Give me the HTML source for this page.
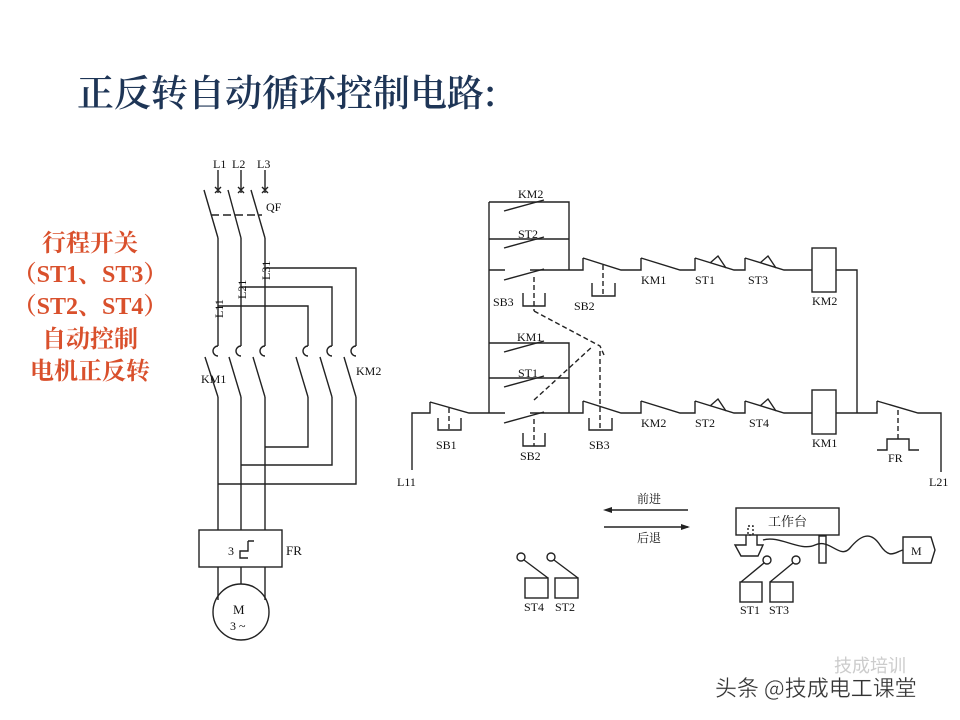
<!DOCTYPE html>
<html><head><meta charset="utf-8"><style>
html,body{margin:0;padding:0;background:#fff;}
svg{display:block;}
.t{font-family:"Liberation Serif","Noto Serif CJK SC",serif;font-size:12px;fill:#111;}
</style></head><body>
<svg width="960" height="720" viewBox="0 0 960 720" xmlns="http://www.w3.org/2000/svg">
<rect width="960" height="720" fill="#fff"/>
<text x="77" y="106" font-family="'Noto Serif CJK SC',serif" font-size="37" font-weight="600" fill="#1e3556">正反转自动循环控制电路:</text>
<g font-family="'Liberation Serif','Noto Serif CJK SC',serif" font-size="24" font-weight="bold" fill="#d9502c" text-anchor="middle">
<text x="90" y="251">行程开关</text>
<text x="90" y="282">（ST1、ST3）</text>
<text x="90" y="314">（ST2、ST4）</text>
<text x="90" y="347">自动控制</text>
<text x="90" y="379">电机正反转</text>
</g>
<g stroke="#222" stroke-width="1.4" fill="none">
<path d="M218 170V193M241 170V193M265 170V193"/>
<path d="M215 187l6 6M221 187l-6 6M238 187l6 6M244 187l-6 6M262 187l6 6M268 187l-6 6"/>
<path d="M204 190L218 238M228 190L241 238M251 190L265 238"/>
<path d="M211 215H262" stroke-dasharray="8,4"/>
<path d="M218 238V346M241 238V346M265 238V346"/>
<path d="M265 268H356V346M241 287H332V346M218 306H308V346"/>
<path d="M218 346a5 5 0 0 0 -5 5a5 5 0 0 0 5 5M241 346a5 5 0 0 0 -5 5a5 5 0 0 0 5 5M265 346a5 5 0 0 0 -5 5a5 5 0 0 0 5 5"/>
<path d="M308 346a5 5 0 0 0 -5 5a5 5 0 0 0 5 5M332 346a5 5 0 0 0 -5 5a5 5 0 0 0 5 5M356 346a5 5 0 0 0 -5 5a5 5 0 0 0 5 5"/>
<path d="M205 357L218 397M229 357L241 397M253 357L265 397M296 357L308 397M320 357L332 397M344 357L356 397"/>
<path d="M218 397V530M241 397V530M265 397V530"/>
<path d="M308 397V447H265M332 397V465H241M356 397V484H218"/>
<rect x="199" y="530" width="83" height="37"/>
<path d="M218 567V600M241 567V584M265 567V600"/>
<circle cx="241" cy="612" r="28"/>
<path d="M248 541V551H240V558H248M248 541h6"/>
<path d="M489 202V413M489 202H569V270M489 239H569M489 343H569V413M489 378H569"/>
<path d="M489 270H505M530 270H569"/>
<path d="M504 211L544 200M504 248L544 237M504 280L544 269M504 352L544 341M504 387L544 376"/>
<path d="M489 413H505M530 413H569"/>
<path d="M504 423L544 412"/>
<path d="M534 277V311" stroke-dasharray="5,3"/>
<path d="M523 293V306H545V293"/>
<path d="M534 311L600 346L604 355" stroke-dasharray="5,3"/>
<path d="M534 419V446" stroke-dasharray="5,3"/>
<path d="M523 433V446H545V433"/>
<path d="M534 400L545 390L593 346" stroke-dasharray="5,3"/>
<path d="M569 270H583V258M583 258L621 270H641V258M641 258L680 270H695V258M695 258L734 270H745V258M745 258L784 270H812"/>
<path d="M603 265V296" stroke-dasharray="5,3"/>
<path d="M592 283V296H615V283"/>
<path d="M600 351V430" stroke-dasharray="5,3"/>
<path d="M589 418V430H612V418"/>
<path d="M710 263L718 256L726 268M760 263L768 256L776 268"/>
<rect x="812" y="248" width="24" height="44"/>
<path d="M836 270H857V413"/>
<path d="M412 470V413H430V402M430 402L469 413H489"/>
<path d="M449 408V430" stroke-dasharray="5,3"/>
<path d="M438 418V430H461V418"/>
<path d="M569 413H583V401M583 401L621 413H641V401M641 401L680 413H695V401M695 401L734 413H745V401M745 401L784 413H812"/>
<path d="M710 406L718 399L726 411M760 406L768 399L776 411"/>
<rect x="812" y="390" width="24" height="44"/>
<path d="M836 413H877V401M877 401L918 413H941V472"/>
<path d="M898 410V439" stroke-dasharray="5,3"/>
<path d="M877 450H887V439H909V450H919"/>
<path d="M688 510H606M604 527H688"/>
<rect x="736" y="508" width="103" height="27"/>
<path d="M746 535V545H735L741 556H758L763 545H757V535"/>
<rect x="748" y="526" width="5" height="9" stroke-dasharray="2,2"/>
<rect x="819" y="536" width="7" height="27"/>
<path d="M763 540C780 535 800 552 815 545S840 560 850 548S870 530 880 545S895 552 903 550"/>
<path d="M903 537H931L935 550L931 563H903Z"/>
<circle cx="521" cy="557" r="4"/><circle cx="551" cy="557" r="4"/>
<path d="M524 560L548 578M554 560L578 578"/>
<rect x="525" y="578" width="23" height="20"/><rect x="555" y="578" width="23" height="20"/>
<circle cx="767" cy="560" r="4"/><circle cx="796" cy="560" r="4"/>
<path d="M764 563L741 582M793 563L770 582"/>
<rect x="740" y="582" width="22" height="20"/><rect x="770" y="582" width="23" height="20"/>
</g>
<path d="M603 510l9-3v6zM690 527l-9-3v6z" fill="#222"/>
<g class="t">
<text x="213" y="168">L1</text><text x="232" y="168">L2</text><text x="257" y="168">L3</text>
<text x="266" y="211">QF</text>
<text x="201" y="383">KM1</text><text x="356" y="375">KM2</text>
<text x="286" y="555" font-size="13">FR</text>
<text x="233" y="614" font-size="13">M</text><text x="230" y="630" font-size="12">3 ~</text>
<text x="228" y="555" font-size="12">3</text>
<text transform="translate(223,318) rotate(-90)">L11</text>
<text transform="translate(246,299) rotate(-90)">L21</text>
<text transform="translate(270,280) rotate(-90)">L31</text>
<text x="518" y="198">KM2</text><text x="518" y="238">ST2</text>
<text x="493" y="306">SB3</text><text x="574" y="310">SB2</text>
<text x="517" y="341">KM1</text><text x="518" y="377">ST1</text>
<text x="641" y="284">KM1</text><text x="695" y="284">ST1</text><text x="748" y="284">ST3</text>
<text x="812" y="305">KM2</text>
<text x="641" y="427">KM2</text><text x="695" y="427">ST2</text><text x="749" y="427">ST4</text>
<text x="812" y="447">KM1</text>
<text x="436" y="449">SB1</text><text x="520" y="460">SB2</text><text x="589" y="449">SB3</text>
<text x="888" y="462">FR</text>
<text x="397" y="486">L11</text><text x="929" y="486">L21</text>
<text x="637" y="503" font-family="'Noto Serif CJK SC',serif">前进</text>
<text x="637" y="542" font-family="'Noto Serif CJK SC',serif">后退</text>
<text x="768" y="526" font-family="'Noto Serif CJK SC',serif" font-size="13">工作台</text>
<text x="911" y="555">M</text>
<text x="524" y="611">ST4</text><text x="555" y="611">ST2</text>
<text x="740" y="614">ST1</text><text x="769" y="614">ST3</text>
</g>
<text x="834" y="672" font-family="'Noto Sans CJK SC',sans-serif" font-size="18" fill="#ccc">技成培训</text>
<text x="715" y="696" font-family="'Noto Sans CJK SC',sans-serif" font-size="22" fill="#333" stroke="#fff" stroke-width="0.3">头条 @技成电工课堂</text>
</svg>
</body></html>
